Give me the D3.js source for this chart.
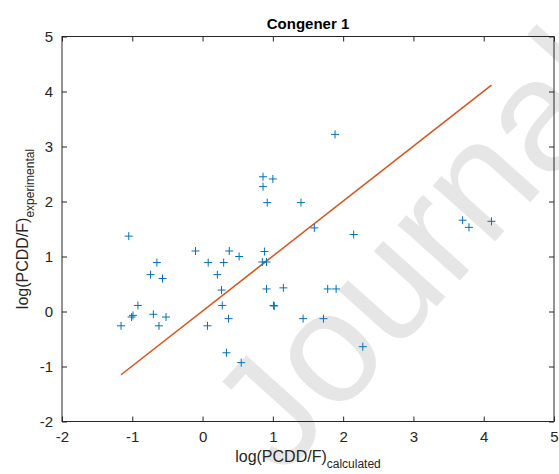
<!DOCTYPE html>
<meta charset="utf-8">
<style>
  body { margin: 0; background: #fff; }
  text { font-family: "Liberation Sans", Arial, sans-serif; fill: #262626; }
</style>
<body>
<script src="https://d3js.org/d3.v7.min.js"></script>
<script>
var calcX = [-1.05, -0.10, 0.38, 0.52, 0.88, -0.65, 0.08, 0.30, 0.85, 0.91,
             -0.74, -0.57, 0.21, 0.27, 0.91, 1.15, 1.78, 1.90, -0.92, 0.28,
             1.01, 1.02, -0.99, -1.01, -0.70, -0.52, -1.16, -0.62, 0.07, 0.37,
             1.43, 1.72, 0.34, 0.55, 2.28, 0.86, 1.00, 0.86, 0.92, 1.40,
             1.885, 1.59, 2.15, 3.70, 3.79, 4.11];
var expY  = [1.37, 1.10, 1.10, 1.00, 1.09, 0.89, 0.89, 0.89, 0.90, 0.90,
             0.67, 0.60, 0.67, 0.39, 0.41, 0.43, 0.41, 0.41, 0.11, 0.11,
             0.11, 0.10, -0.07, -0.10, -0.05, -0.10, -0.26, -0.26, -0.26, -0.13,
             -0.13, -0.13, -0.75, -0.93, -0.64, 2.45, 2.41, 2.27, 1.98, 1.98,
             3.22, 1.52, 1.40, 1.66, 1.53, 1.64];
// fitted line end points
var fitX = [-1.16, 4.11];
var fitY = [-1.15, 4.115];
var xTicks = [-2, -1, 0, 1, 2, 3, 4, 5];
var yTicks = [-2, -1, 0, 1, 2, 3, 4, 5];

var margin = {top: 36.5, right: 5, bottom: 52.5, left: 62};
var W = 559, H = 474;
var width = W - margin.left - margin.right,
    height = H - margin.top - margin.bottom;

var svg = d3.select("body").append("svg")
    .attr("width", W).attr("height", H);

// watermark
svg.append("text")
    .attr("transform", "translate(282,478) rotate(-48)")
    .style("font-size", "158px")
    .style("fill", "#e6e6e6")
    .text("Journal Pre-proof");

var g = svg.append("g")
    .attr("transform", "translate(" + margin.left + "," + margin.top + ")");

var x = d3.scaleLinear().domain([-2, 5]).range([0, width]);
var y = d3.scaleLinear().domain([-2, 5]).range([height, 0]);

// axes, ticks inside like matlab
function styleAxis(sel) {
  sel.select(".domain").remove();
  sel.selectAll(".tick line").attr("stroke", "#262626");
  sel.selectAll(".tick text").style("font-size", "15px").attr("fill", "#262626");
}
var fmt = function(d) { return String(d); };
g.append("g").attr("transform", "translate(0," + height + ")")
  .call(d3.axisBottom(x).tickValues(xTicks).tickSize(-5).tickPadding(10).tickFormat(fmt))
  .call(styleAxis);
g.append("g")
  .call(d3.axisLeft(y).tickValues(yTicks).tickSize(-5).tickPadding(9).tickFormat(fmt))
  .call(styleAxis);
g.append("g")
  .call(d3.axisTop(x).tickValues(xTicks).tickSize(-5).tickFormat(""))
  .call(styleAxis);
g.append("g").attr("transform", "translate(" + width + ",0)")
  .call(d3.axisRight(y).tickValues(yTicks).tickSize(-5).tickFormat(""))
  .call(styleAxis);
g.append("rect")
  .attr("width", width).attr("height", height)
  .attr("fill", "none").attr("stroke", "#262626").attr("stroke-width", 1);

// fit line
g.append("path")
  .datum(d3.zip(fitX, fitY))
  .attr("fill", "none")
  .attr("stroke", "#D95319")
  .attr("stroke-width", 1.5)
  .attr("d", d3.line().x(function(d) { return x(d[0]); }).y(function(d) { return y(d[1]); }));

// plus markers
var pts = d3.zip(calcX, expY);
var s = 4;
g.selectAll(".pt").data(pts).enter().append("path")
  .attr("class", "pt")
  .attr("fill", "none")
  .attr("stroke", "#0072BD")
  .attr("stroke-width", 1)
  .attr("d", function(d) {
    var cx = x(d[0]), cy = y(d[1]);
    return "M" + (cx - s) + "," + cy + "H" + (cx + s) + "M" + cx + "," + (cy - s) + "V" + (cy + s);
  });

// title
svg.append("text")
  .attr("x", margin.left + width / 2).attr("y", 29)
  .attr("text-anchor", "middle")
  .style("font-size", "15px").style("font-weight", "bold")
  .style("fill", "#000")
  .text("Congener 1");

// x label
var xl = svg.append("text")
  .attr("x", margin.left + width / 2).attr("y", 462)
  .attr("text-anchor", "middle")
  .style("font-size", "16px");
xl.append("tspan").text("log(PCDD/F)");
xl.append("tspan").attr("dy", 6).style("font-size", "12px").text("calculated");

// y label
var yl = svg.append("text")
  .attr("transform", "translate(28," + (margin.top + height / 2) + ") rotate(-90)")
  .attr("text-anchor", "middle")
  .style("font-size", "16px");
yl.append("tspan").text("log(PCDD/F)");
yl.append("tspan").attr("dy", 6).style("font-size", "12px").text("experimental");
</script>
</body>
